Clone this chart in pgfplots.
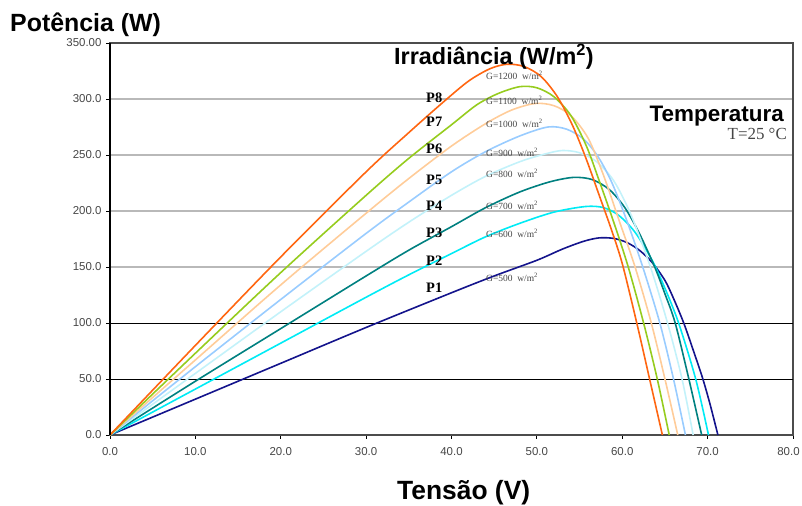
\documentclass[border=0pt]{standalone}
\usepackage{fontspec}
\setmainfont{Liberation Sans}
\newfontfamily\serif{Liberation Serif}
\usepackage{pgfplots}
\pgfplotsset{compat=1.18}

\definecolor{g1200}{RGB}{255,102,17}
\definecolor{g1100}{RGB}{150,204,30}
\definecolor{g1000}{RGB}{255,204,153}
\definecolor{g900}{RGB}{153,204,255}
\definecolor{g800}{RGB}{195,242,250}
\definecolor{g700}{RGB}{0,128,128}
\definecolor{g600}{RGB}{0,235,245}
\definecolor{g500}{RGB}{20,20,140}
\definecolor{ticktxt}{RGB}{70,70,70}

\begin{document}
\begin{tikzpicture}[x=1bp,y=1bp]
\useasboundingbox (0,0) rectangle (802,506);
\begin{axis}[
  at={(110bp,71bp)}, anchor=south west,
  scale only axis, width=683bp, height=392bp,
  xmin=0, xmax=80, ymin=0, ymax=350,
  xtick={0,10,...,80},
  xticklabels={0.0,10.0,20.0,30.0,40.0,50.0,60.0,70.0,\hspace*{-9bp}80.0},
  ytick={0,150,200,250,300,350},
  yticklabels={0.0,150.0,200.0,250.0,300.0,350.00},
  extra y ticks={50,100},
  extra y tick labels={50.0,100.0},
  extra y tick style={grid style={black, line width=0.9bp}},
  ymajorgrids,
  grid style={gray!55, line width=1.3bp},
  tick pos=left, tick align=outside,
  major tick length=4bp,
  tick style={black, line width=0.8bp},
  axis line style={gray!60!black, line width=1.2bp},
  ticklabel style={font=\fontsize{11.5}{13}\selectfont, text=ticktxt},
  xticklabel style={yshift=-5bp},
  yticklabel style={xshift=-1bp},
  every axis plot/.append style={smooth, line width=1.6bp},
  clip=false,
]
\addplot[g500] coordinates {
  (0,0) (10,32) (20,64) (30,96) (40,127) (45,142) (50,156) (53,166) (55.5,173)
  (57.3,176) (59,175.5) (60.5,172) (62,165) (63.5,154) (65,138) (66,122)
  (67.2,100) (68.3,76) (69.4,51) (70.3,27) (71.2,0)
};
\addplot[g600] coordinates {
  (0,0) (10,41) (20,82) (30,123) (35,143) (40,162) (44,177) (48,189) (52,199)
  (55.7,204) (57.8,203) (59.6,196) (61.5,181) (63.5,156) (65,131) (66.6,100)
  (68.6,50) (70.1,0)
};
\addplot[g700] coordinates {
  (0,0) (10,48) (20,95) (30,142) (35,165) (40,186) (44,203) (48,217) (51.5,226)
  (54.3,230) (56.5,228) (58.5,219) (60.3,203) (62,180) (63.8,150) (65,126)
  (66.2,100) (67.8,50) (69.3,0)
};
\addplot[g800] coordinates {
  (0,0) (10,55) (20,110) (30,164) (35,190) (40,214) (44,231) (48,244) (51,251)
  (53,254) (55,252) (57,244) (59,227) (61,197) (63.3,150) (65.3,100) (67,50)
  (68.3,0)
};
\addplot[g900] coordinates {
  (0,0) (10,61) (20,121) (30,180) (35,208) (40,235) (44,253) (48,267) (51.3,275)
  (53.5,273) (55.5,264) (57.2,248) (58.8,225) (60.6,190) (62.4,150) (64.4,100)
  (66,50) (67.4,0)
};
\addplot[g1000] coordinates {
  (0,0) (10,67) (20,134) (30,198) (35,229) (40,258) (44,278) (47,290) (49.8,296)
  (52,294) (54,285) (56,265) (57.8,232) (59.7,190) (61.5,150) (63.4,100)
  (65,50) (66.5,0)
};
\addplot[g1100] coordinates {
  (0,0) (10,73) (20,145) (30,214) (35,247) (40,277) (43,295) (45.5,305) (48,311)
  (50,310) (52,302) (54,285) (55.8,258) (57.3,227) (59,190) (60.7,150)
  (62.5,100) (64.1,50) (65.5,0)
};
\addplot[g1200] coordinates {
  (0,0) (10,80) (20,159) (30,235) (35,270) (39,297) (42,316) (44.5,327)
  (46.5,331) (48.5,329) (50.5,320) (52.4,302) (54.2,276) (55.8,246) (57.3,214)
  (58.7,184) (60,153) (61.7,100) (63.2,50) (64.7,0)
};
\draw[black, line width=1.6bp] (axis cs:0,0) -- (axis cs:0,350);
\end{axis}

% titles
\node[anchor=base west, inner sep=0, font=\fontsize{25}{28}\selectfont\bfseries] at (10,474) {Potência (W)};
\node[anchor=base west, inner sep=0, font=\fontsize{26.5}{30}\selectfont\bfseries] at (397,6) {Tensão (V)};
\node[anchor=base, inner sep=0, font=\fontsize{23.5}{26}\selectfont\bfseries] at (494,441) {Irradiância (W/m\textsuperscript{2})};
\node[anchor=base east, inner sep=0, font=\fontsize{22.5}{25}\selectfont\bfseries] at (784,384) {Temperatura};
\node[anchor=base east, inner sep=0, text=ticktxt, font=\serif\fontsize{17}{19}\selectfont] at (787,366) {T=25 °C};

% curve labels
\begin{scope}[every node/.style={anchor=west, inner sep=0, font=\serif\bfseries\fontsize{14.5}{16}\selectfont}]
\node at (426,408.5) {P8};
\node at (426,384.5) {P7};
\node at (426,357.5) {P6};
\node at (426,326.5) {P5};
\node at (426,300) {P4};
\node at (426,273.5) {P3};
\node at (426,245) {P2};
\node at (426,218.5) {P1};
\end{scope}
\begin{scope}[every node/.style={anchor=west, inner sep=0, text=ticktxt, font=\serif\fontsize{9.5}{11}\selectfont}]
\node at (486,431) {G=1200\ \ w/m\textsuperscript{2}};
\node at (486,406) {G=1100\ \ w/m\textsuperscript{2}};
\node at (486,383) {G=1000\ \ w/m\textsuperscript{2}};
\node at (486,354) {G=900\ \ w/m\textsuperscript{2}};
\node at (486,333) {G=800\ \ w/m\textsuperscript{2}};
\node at (486,301) {G=700\ \ w/m\textsuperscript{2}};
\node at (486,273) {G=600\ \ w/m\textsuperscript{2}};
\node at (486,229) {G=500\ \ w/m\textsuperscript{2}};
\end{scope}
\end{tikzpicture}
\end{document}
